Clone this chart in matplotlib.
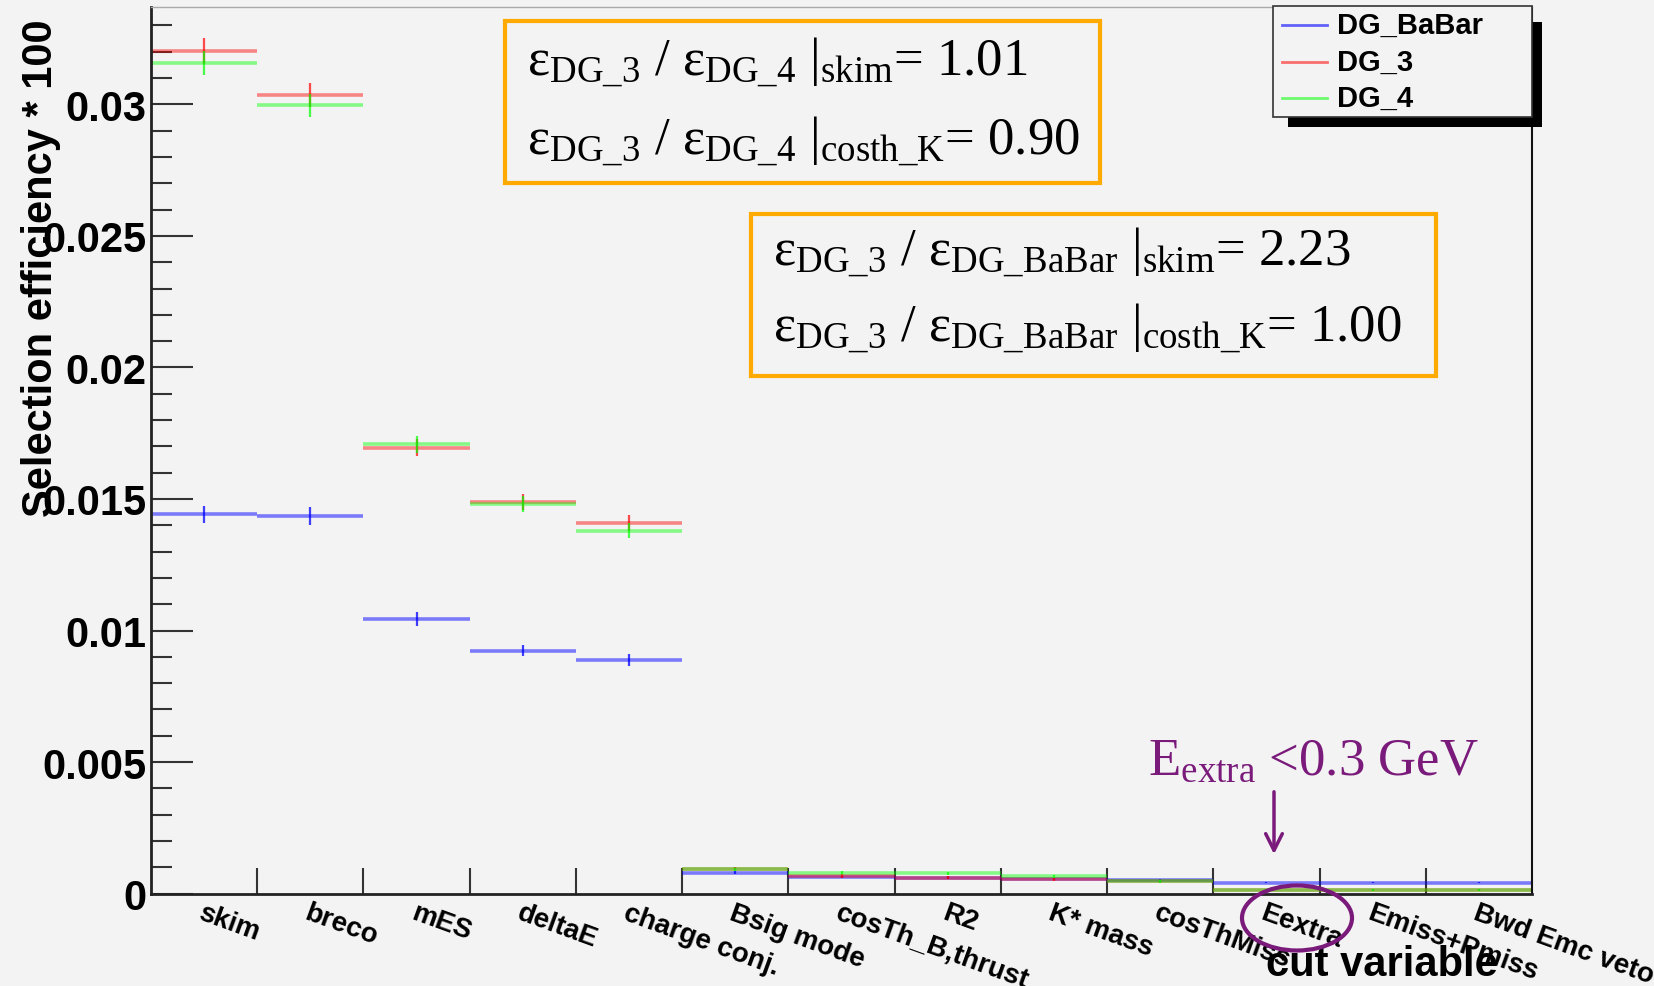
import matplotlib
matplotlib.use('Agg')
import matplotlib.pyplot as plt
import matplotlib.patches as mpatches
from matplotlib.lines import Line2D
import numpy as np

plt.rcParams['font.family'] = ['Liberation Sans', 'DejaVu Sans']
plt.rcParams['mathtext.fontset'] = 'custom'
plt.rcParams['mathtext.rm'] = 'Liberation Serif'
plt.rcParams['mathtext.it'] = 'Liberation Serif:italic'

# cut flow bins
cuts = ['skim', 'breco', 'mES', 'deltaE', 'charge conj.', 'Bsig mode',
        'cosTh_B,thrust', 'R2', 'K* mass', 'cosThMiss', 'Eextra',
        'Emiss+Pmiss', 'Bwd Emc veto']

eff_babar = [0.01442, 0.01435, 0.01044, 0.00924, 0.00888, 0.00080, 0.00063,
             0.00061, 0.00054, 0.00051, 0.00042, 0.00042, 0.00042]
err_babar = [0.00033, 0.00033, 0.00025, 0.00022, 0.00022, 0.00005, 0.00004,
             0.00004, 0.00004, 0.00004, 0.00003, 0.00003, 0.00003]
eff_dg3 = [0.03203, 0.03036, 0.01695, 0.01488, 0.01408, 0.00095, 0.00067,
           0.00061, 0.00054, 0.00047, 0.00014, 0.00014, 0.00014]
err_dg3 = [0.00050, 0.00046, 0.00033, 0.00030, 0.00030, 0.00007, 0.00006,
           0.00006, 0.00005, 0.00005, 0.00003, 0.00003, 0.00003]
eff_dg4 = [0.03158, 0.02996, 0.01708, 0.01480, 0.01380, 0.00092, 0.00080,
           0.00077, 0.00065, 0.00047, 0.00014, 0.00014, 0.00014]
err_dg4 = [0.00045, 0.00045, 0.00033, 0.00030, 0.00030, 0.00007, 0.00006,
           0.00006, 0.00005, 0.00005, 0.00003, 0.00003, 0.00003]

series = [
    ('DG_BaBar', eff_babar, err_babar, '#0000ff', 0.5),
    ('DG_3', eff_dg3, err_dg3, '#ff0000', 0.45),
    ('DG_4', eff_dg4, err_dg4, '#00ff00', 0.45),
]

yticks = [0, 0.005, 0.01, 0.015, 0.02, 0.025, 0.03]
ytick_labels = ['0', '0.005', '0.01', '0.015', '0.02', '0.025', '0.03']

bg = '#f3f3f3'
W, H = 1654, 987
fig = plt.figure(figsize=(W / 100, H / 100), dpi=100)
fig.patch.set_facecolor(bg)


def fx(px):
    return px / W


def fy(py):
    return 1 - py / H


ax = fig.add_axes([fx(151), fy(894.6), fx(1532) - fx(151), fy(8) - fy(894.6)])
ax.set_facecolor(bg)

centers = np.arange(len(cuts)) + 0.5
for name, vals, errs, col, a in series:
    # bin width bars, then the (darker) vertical error bars
    ax.errorbar(centers, vals, xerr=0.5, fmt='none',
                ecolor=col, alpha=a, elinewidth=2.6, capsize=0)
    ax.errorbar(centers, vals, yerr=errs, fmt='none',
                ecolor=col, alpha=min(a + 0.25, 1), elinewidth=1.6, capsize=0)

ax.set_xlim(0, len(cuts))
ax.set_ylim(0, 0.0337)

# y axis
ax.set_yticks(yticks)
ax.set_yticklabels(ytick_labels, fontsize=30, fontweight='bold')
ax.set_yticks(np.arange(0, 0.0337, 0.001), minor=True)
ax.tick_params(axis='y', which='major', direction='in', length=30,
               width=1.5, color='#333333', pad=3)
ax.tick_params(axis='y', which='minor', direction='in', length=15,
               width=1.5, color='#333333')

# x axis: ticks on bin edges, labels on bin centres
ax.set_xticks(np.arange(1, len(cuts)))
ax.tick_params(axis='x', which='major', direction='in', length=19,
               width=1.5, color='#333333', labelbottom=False)
ax.set_xticks(centers, minor=True)
ax.set_xticklabels(cuts, minor=True, rotation=-20, ha='left', va='top',
                   rotation_mode='anchor', fontsize=20, fontweight='bold')
ax.tick_params(axis='x', which='minor', length=0, pad=4)

for s in ['left', 'bottom']:
    ax.spines[s].set_linewidth(2)
    ax.spines[s].set_color('#222222')
ax.spines['right'].set_linewidth(1.5)
ax.spines['right'].set_color('#111111')
ax.spines['top'].set_linewidth(1)
ax.spines['top'].set_color('#aaaaaa')

fig.text(fx(41), fy(19), 'Selection efficiency * 100', rotation=90,
         ha='center', va='top', fontsize=30, fontweight='bold')
fig.text(fx(1498), fy(965), 'cut variable', ha='right', va='center',
         fontsize=30, fontweight='bold')

# legend with ROOT-like shadow
fig.patches.append(mpatches.Rectangle((fx(1288), fy(128)), fx(1542) - fx(1288),
                                      fy(23) - fy(128), transform=fig.transFigure,
                                      facecolor='black', edgecolor='none', zorder=5))
fig.patches.append(mpatches.Rectangle((fx(1273), fy(118)), fx(1532) - fx(1273),
                                      fy(7) - fy(118), transform=fig.transFigure,
                                      facecolor=bg, edgecolor='#333333', lw=1.2, zorder=6))
leg_y = [26, 63, 99]
for (name, vals, errs, col, a), ly in zip(series, leg_y):
    fig.lines.append(Line2D([fx(1282), fx(1327)], [fy(ly), fy(ly)], color=col,
                            alpha=a + 0.1, lw=2, transform=fig.transFigure, zorder=7))
    fig.text(fx(1337), fy(ly), name, ha='left', va='center', fontsize=21,
             fontweight='bold', zorder=7)

# ratio boxes
orange = '#ffaa00'
for x0, y0, x1, y1 in [(505, 22, 1100, 184), (751, 215, 1436, 377)]:
    fig.patches.append(mpatches.Rectangle((fx(x0), fy(y1)), fx(x1) - fx(x0),
                                          fy(y0) - fy(y1), transform=fig.transFigure,
                                          facecolor=bg, edgecolor=orange, lw=3, zorder=4))

serif = ['Liberation Serif', 'DejaVu Serif']
box_lines = [
    (527, 74, r'ε$_{\rm DG\_3}$ / ε$_{\rm DG\_4}$ |$_{\rm skim}$= 1.01'),
    (527, 153, r'ε$_{\rm DG\_3}$ / ε$_{\rm DG\_4}$ |$_{\rm costh\_K}$= 0.90'),
    (773, 264, r'ε$_{\rm DG\_3}$ / ε$_{\rm DG\_BaBar}$ |$_{\rm skim}$= 2.23'),
    (773, 340, r'ε$_{\rm DG\_3}$ / ε$_{\rm DG\_BaBar}$ |$_{\rm costh\_K}$= 1.00'),
]
for x, y, s in box_lines:
    fig.text(fx(x), fy(y), s, ha='left', va='baseline', fontsize=38,
             family=serif, zorder=8)

# Eextra annotation
purple = '#7a1a7a'
fig.text(fx(1148), fy(775), r'E$_{\rm extra}$ <0.3 GeV', ha='left', va='baseline',
         fontsize=38, family=serif, color=purple)
ax.annotate('', xy=(fx(1274), fy(858)), xytext=(fx(1274), fy(790)),
            xycoords='figure fraction', textcoords='figure fraction',
            arrowprops=dict(arrowstyle='->', color=purple, lw=2.5,
                            mutation_scale=30))
fig.patches.append(mpatches.Ellipse((fx(1297), fy(919)), fx(110), 65 / H,
                                    transform=fig.transFigure, facecolor='none',
                                    edgecolor=purple, lw=3, zorder=9))

fig.savefig('out.png', dpi=100, facecolor=bg)
